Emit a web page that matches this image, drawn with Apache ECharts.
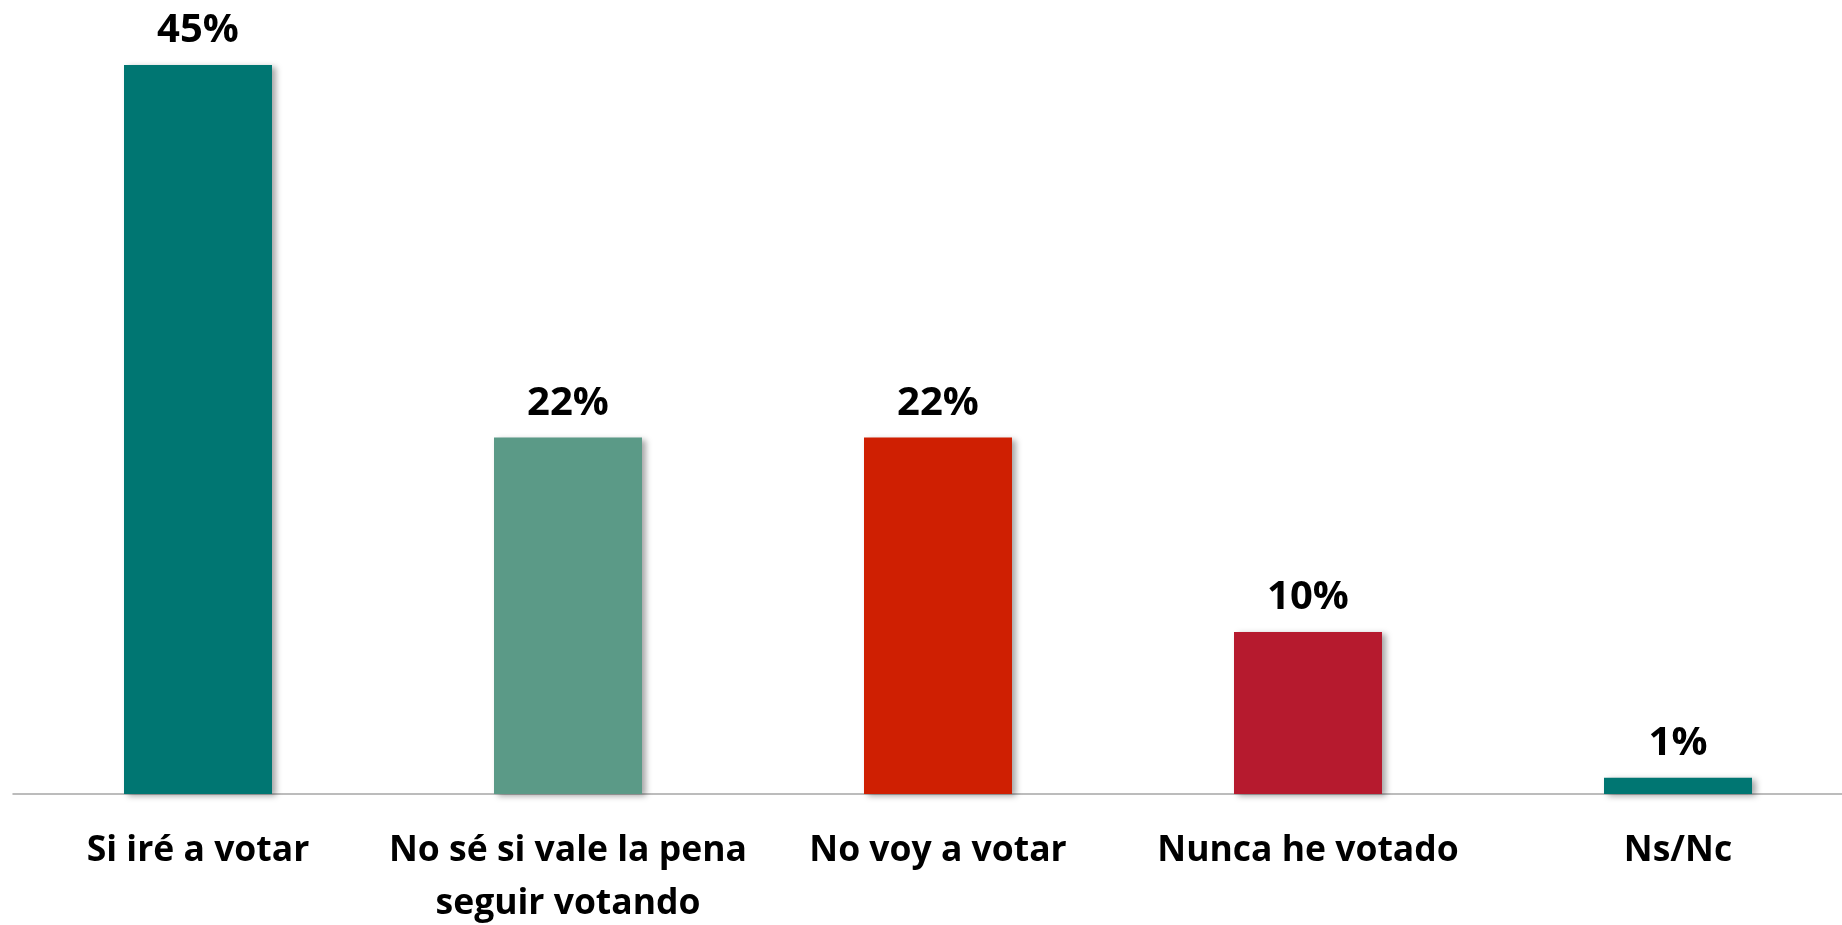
<!DOCTYPE html>
<html>
<head>
<meta charset="utf-8">
<script src="https://cdn.jsdelivr.net/npm/echarts@6/dist/echarts.min.js"></script>
<style>
  html, body { margin: 0; padding: 0; background: #fff; overflow: hidden; }
  #chart { width: 1842px; height: 925px; }
</style>
</head>
<body>
<div id="chart"></div>
<script>
const categories = ['Si iré a votar', 'No sé si vale la pena\nseguir votando', 'No voy a votar', 'Nunca he votado', 'Ns/Nc'];
const values = [45, 22, 22, 10, 1];
const barColors = ['#007672', '#5B9A87', '#CF1F02', '#B61A2E', '#007672'];

const chart = echarts.init(document.getElementById('chart'));
chart.setOption({
  animation: false,
  grid: { left: 13, right: -21, top: 65, bottom: 131, outerBoundsMode: 'none', containLabel: false },
  xAxis: {
    type: 'category',
    data: categories,
    axisLine: { lineStyle: { color: '#A6A6A6', width: 1.5 } },
    axisTick: { show: false },
    axisLabel: {
      color: '#000',
      fontFamily: 'Open Sans',
      fontWeight: 'bold',
      fontSize: 35.5,
      lineHeight: 53,
      margin: 30,
      interval: 0
    }
  },
  yAxis: { type: 'value', min: 0, max: 45, show: false, splitLine: { show: false } },
  series: [{
    type: 'bar',
    barWidth: '40%',
    data: values.map((v, i) => ({
      value: v,
      itemStyle: { color: barColors[i] }
    })),
    itemStyle: {
      shadowColor: 'rgba(0,0,0,0.35)',
      shadowBlur: 6,
      shadowOffsetX: 4,
      shadowOffsetY: 2
    },
    label: {
      show: true,
      position: 'top',
      distance: 14,
      formatter: '{c}%',
      color: '#000',
      fontFamily: 'Open Sans',
      fontWeight: 'bold',
      fontSize: 40
    }
  }]
});
</script>
</body>
</html>
